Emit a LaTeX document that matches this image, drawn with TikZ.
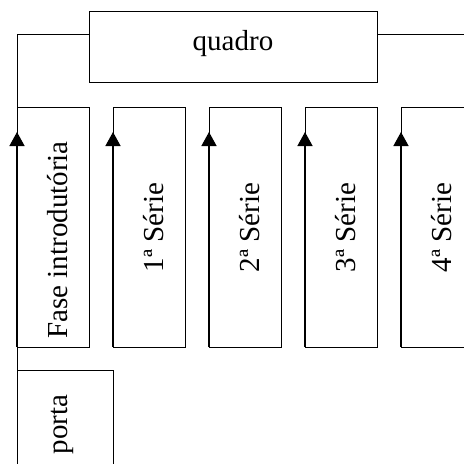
\documentclass[tikz,border=0pt]{standalone}
\usepackage{fontspec}
\setmainfont{Liberation Serif}
\usetikzlibrary{arrows.meta}
\begin{document}
\begin{tikzpicture}[x=1pt,y=-1pt,
  boxstyle/.style={draw,line width=1pt,inner sep=0pt,outer sep=0pt,rectangle},
  colbox/.style={boxstyle,minimum width=72pt,minimum height=240pt},
  lbl/.style={font=\fontsize{29}{34}\selectfont,inner sep=0pt,anchor=base},
  vlbl/.style={lbl,rotate=90},
  conn/.style={line width=1pt},
  flow/.style={line width=1.4pt,-{Triangle[length=14pt,width=15pt]}}]
\useasboundingbox (0,0) rectangle (464,464);
\clip (0,0) rectangle (464,464);
% quadro
\node[boxstyle,minimum width=288pt,minimum height=71pt] (quadro) at (233,46.5) {};
\node[lbl] (quadrotxt) at (233,50) {quadro};
% columns
\node[colbox] (fase) at (53,227) {};
\node[colbox] (s1) at (149,227) {};
\node[colbox] (s2) at (245,227) {};
\node[colbox] (s3) at (341,227) {};
\node[colbox] (s4) at (437,227) {};
\node[vlbl] (fasetxt) at (67,240) {Fase introdutória};
\node[vlbl] (s1txt) at (163,227.5) {1ª Série};
\node[vlbl] (s2txt) at (259,227.5) {2ª Série};
\node[vlbl] (s3txt) at (355,227.5) {3ª Série};
\node[vlbl] (s4txt) at (451,227.5) {4ª Série};
% porta
\node[boxstyle,minimum width=96pt,minimum height=140pt,anchor=north west] (porta) at (17,370) {};
\node[vlbl] (portatxt) at (67,424.5) {porta};
% connectors
\coordinate (qL) at (17,34);
\coordinate (qR) at (464,34);
\draw[conn] (quadro.west |- qL) -- (qL) -- (porta.north west);
\draw[conn] (quadro.east |- qR) -- (qR);
% arrows
\coordinate (a0) at (17,132);
\coordinate (a1) at (113,132);
\coordinate (a2) at (209,132);
\coordinate (a3) at (305,132);
\coordinate (a4) at (401,132);
\draw[flow] (fase.south west) -- (a0);
\draw[flow] (s1.south west) -- (a1);
\draw[flow] (s2.south west) -- (a2);
\draw[flow] (s3.south west) -- (a3);
\draw[flow] (s4.south west) -- (a4);
\end{tikzpicture}
\end{document}
